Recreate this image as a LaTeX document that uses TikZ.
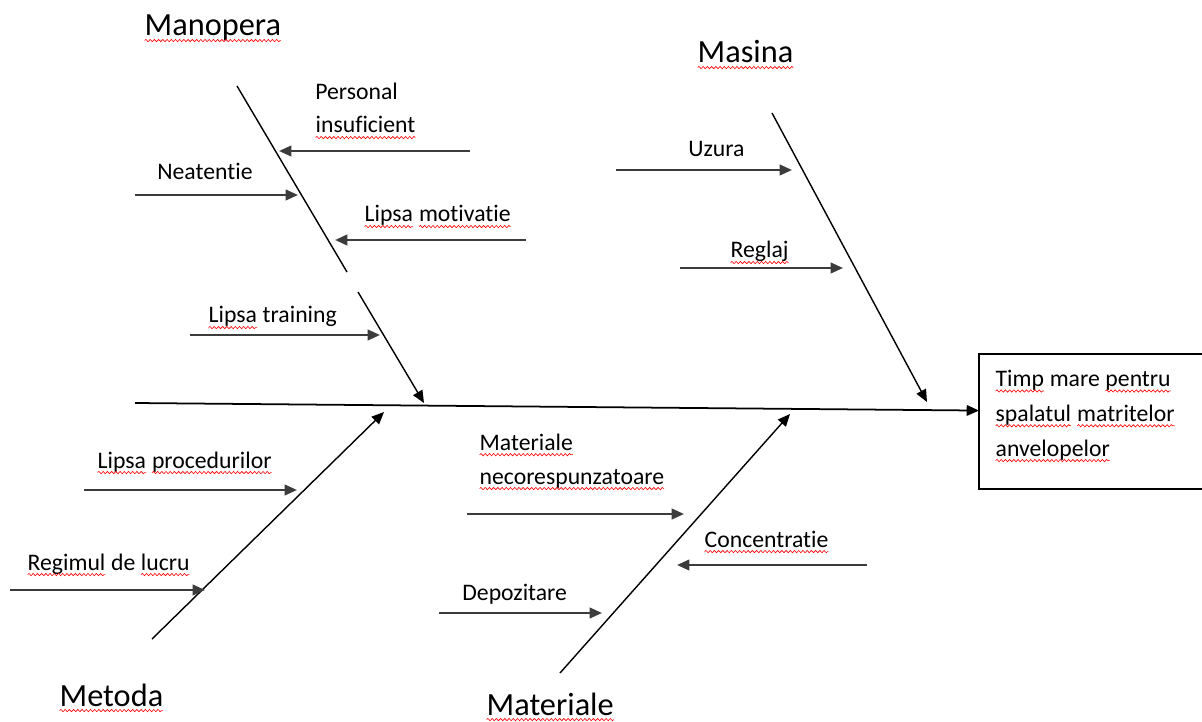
\documentclass[tikz,border=0pt]{standalone}
\usepackage{fontspec}
\setmainfont{Carlito}[RawFeature={-liga;-clig;-dlig}]
\usetikzlibrary{arrows.meta, decorations.pathmorphing}
\definecolor{lineGray}{RGB}{60,60,60}
% red spell-check wave under a word
\newcommand{\sq}[1]{\tikz[baseline=(w.base)]{\node[inner sep=0pt, outer sep=0pt, anchor=base] (w) {#1};
  \draw[red, line width=0.35pt, decorate, decoration={snake, amplitude=0.65pt, segment length=2.4pt}] ([yshift=-2.6pt]w.base west) -- ([yshift=-2.6pt]w.base east);}}

\begin{document}
\begin{tikzpicture}[x=0.02cm, y=-0.02cm,
    bone/.style={line width=0.8pt, black},
    cause/.style={line width=1.3pt, lineGray, -{Triangle[length=7pt, width=6pt]}},
    lbl/.style={anchor=base west, inner sep=0pt, align=left, font=\fontsize{13.5}{19.3}\selectfont},
    head/.style={anchor=base west, inner sep=0pt, font=\fontsize{18.4}{22}\selectfont}]
  \useasboundingbox (0,0) rectangle (1202,722);
  \clip (0,0) rectangle (1202,722);

  % Effect box (runs off the right edge) and spine
  \node[outer sep=0pt, anchor=north west, minimum width=5cm, minimum height=2.7cm] (effect) at (979,354) {};
  \draw[line width=0.8pt] (effect.north east) -- (effect.north west) -- (effect.south west) -- (effect.south east);
  \node[lbl, font=\fontsize{13.5}{19.8}\selectfont] (effecttext) at (995,456) {\sq{Timp} mare \sq{pentru}\\\sq{spalatul} \sq{matritelor}\\\sq{anvelopelor}};
  \coordinate (spine) at (135,403);
  \draw[line width=1pt, -{Triangle[length=7pt, width=6pt]}] (spine) -- (effect.175);

  % Manopera
  \node[head] (manopera) at (144,36) {\sq{Manopera}};
  \coordinate (manA) at (237,86);
  \coordinate (manB) at (347,272);
  \coordinate (manC) at (358,292);
  \coordinate (manD) at (424,403);
  \draw[bone] (manA) -- (manB);
  \draw[bone, -{Triangle[length=7pt, width=6pt]}] (manC) -- (manD);
  \node[lbl] (personal) at (315,133) {Personal\\\sq{insuficient}};
  \coordinate (p1) at (470,151); \coordinate (p2) at (279,151);
  \draw[cause] (p1) -- (p2);
  \node[lbl] (neatentie) at (157,180) {Neatentie};
  \coordinate (n1) at (135,195); \coordinate (n2) at (298,195);
  \draw[cause] (n1) -- (n2);
  \node[lbl] (motivatie) at (364,222) {\sq{Lipsa} \sq{motivatie}};
  \coordinate (m1) at (526,240); \coordinate (m2) at (335,240);
  \draw[cause] (m1) -- (m2);
  \node[lbl] (training) at (208,323) {\sq{Lipsa} training};
  \coordinate (t1) at (190,335); \coordinate (t2) at (380,335);
  \draw[cause] (t1) -- (t2);

  % Masina
  \node[head] (masina) at (697,63) {\sq{Masina}};
  \coordinate (masA) at (772,113);
  \coordinate (masB) at (927,402);
  \draw[bone, -{Triangle[length=7pt, width=6pt]}] (masA) -- (masB);
  \node[lbl] (uzura) at (688,157) {Uzura};
  \coordinate (u1) at (616,170); \coordinate (u2) at (792,170);
  \draw[cause] (u1) -- (u2);
  \node[lbl] (reglaj) at (730,258) {\sq{Reglaj}};
  \coordinate (r1) at (680,268); \coordinate (r2) at (843,268);
  \draw[cause] (r1) -- (r2);

  % Metoda
  \node[head] (metoda) at (59,706) {\sq{Metoda}};
  \coordinate (metA) at (152,639);
  \coordinate (metB) at (384,412);
  \draw[bone, -{Triangle[length=7pt, width=6pt]}] (metA) -- (metB);
  \node[lbl] (proceduri) at (97,468) {\sq{Lipsa} \sq{procedurilor}};
  \coordinate (l1) at (84,490); \coordinate (l2) at (297,490);
  \draw[cause] (l1) -- (l2);
  \node[lbl] (regim) at (27,570) {\sq{Regimul} de \sq{lucru}};
  \coordinate (g1) at (10,590); \coordinate (g2) at (205,590);
  \draw[cause] (g1) -- (g2);

  % Materiale
  \node[head] (materiale) at (486,715) {\sq{Materiale}};
  \coordinate (matA) at (560,673);
  \coordinate (matB) at (790,414);
  \draw[bone, -{Triangle[length=7pt, width=6pt]}] (matA) -- (matB);
  \node[lbl] (necoresp) at (479,484) {\sq{Materiale}\\\sq{necorespunzatoare}};
  \coordinate (k1) at (467,514); \coordinate (k2) at (684,514);
  \draw[cause] (k1) -- (k2);
  \node[lbl] (concentr) at (704,547) {\sq{Concentratie}};
  \coordinate (c1) at (867,565); \coordinate (c2) at (677,565);
  \draw[cause] (c1) -- (c2);
  \node[lbl] (depozit) at (462,600) {Depozitare};
  \coordinate (d1) at (439,613); \coordinate (d2) at (602,613);
  \draw[cause] (d1) -- (d2);
\end{tikzpicture}
\end{document}
